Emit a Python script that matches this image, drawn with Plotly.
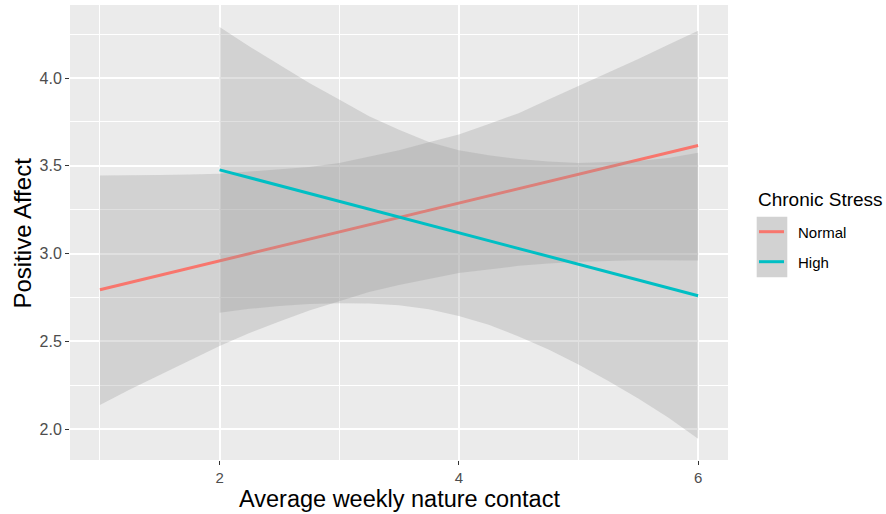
import plotly.graph_objects as go

# ---- data ----
groups = ["Normal", "High"]

normal_x = [1, 1.25, 1.5, 1.75, 2, 2.25, 2.5, 2.75, 3, 3.25, 3.5, 3.75,
            4, 4.25, 4.5, 4.75, 5, 5.25, 5.5, 5.75, 6]
normal_upper = [3.445, 3.445, 3.447, 3.450, 3.455, 3.467, 3.478, 3.493, 3.516, 3.550, 3.588,
                3.634, 3.678, 3.738, 3.800, 3.877, 3.953, 4.028, 4.108, 4.190, 4.269]
normal_lower = [2.138, 2.225, 2.309, 2.390, 2.473, 2.547, 2.613, 2.675, 2.730, 2.781, 2.821,
                2.855, 2.889, 2.909, 2.930, 2.943, 2.953, 2.958, 2.962, 2.962, 2.960]
normal_line_x = [1, 6]
normal_line_y = [2.794, 3.616]

high_x = [2, 2.25, 2.5, 2.75, 3, 3.25, 3.5, 3.75, 4, 4.25, 4.5, 4.75, 5, 5.25, 5.5, 5.75, 6]
high_upper = [4.290, 4.180, 4.076, 3.972, 3.877, 3.782, 3.706, 3.635, 3.588, 3.560, 3.539,
              3.524, 3.516, 3.520, 3.528, 3.545, 3.574]
high_lower = [2.663, 2.685, 2.702, 2.713, 2.717, 2.715, 2.706, 2.683, 2.645, 2.594, 2.528,
              2.453, 2.368, 2.274, 2.174, 2.066, 1.945]
high_line_x = [2, 6]
high_line_y = [3.477, 2.760]

x_ticks = [2, 4, 6]
x_minor = [1, 3, 5]
y_ticks = [2.0, 2.5, 3.0, 3.5, 4.0]
y_minor = [2.25, 2.75, 3.25, 3.75, 4.25]

colors = {"Normal": "#F8766D", "High": "#00BFC4"}
band_fill = "rgba(153,153,153,0.3)"
FONT = "Liberation Sans, Arial, Helvetica, sans-serif"

fig = go.Figure()

def add_group(x, up, lo, lx, ly, color):
    fig.add_trace(go.Scatter(
        x=x + x[::-1], y=up + lo[::-1], fill="toself", fillcolor=band_fill,
        line=dict(width=0), mode="lines", hoverinfo="skip", showlegend=False))
    fig.add_trace(go.Scatter(
        x=lx, y=ly, mode="lines", line=dict(color=color, width=3),
        showlegend=False))

add_group(normal_x, normal_upper, normal_lower, normal_line_x, normal_line_y, colors["Normal"])
add_group(high_x, high_upper, high_lower, high_line_x, high_line_y, colors["High"])

W, H = 886, 514
L, R, T, B = 70, 158, 5, 54
pw, ph = W - L - R, H - T - B

def px(xp):
    return (xp - L) / pw

def py(yp):
    return (H - B - yp) / ph

fig.update_layout(
    width=W, height=H,
    margin=dict(l=L, r=R, t=T, b=B),
    plot_bgcolor="#EBEBEB", paper_bgcolor="white",
    font=dict(family=FONT),
    showlegend=False,
    xaxis=dict(
        range=[0.75, 6.25], tickvals=x_ticks, ticktext=[str(v) for v in x_ticks],
        showgrid=True, gridcolor="white", gridwidth=2,
        minor=dict(tickvals=x_minor, showgrid=True, gridcolor="white", gridwidth=1, ticks=""),
        ticks="outside", ticklen=4, tickwidth=1, tickcolor="#333333",
        tickfont=dict(size=15, color="#4D4D4D", family=FONT),
        zeroline=False, showline=False),
    yaxis=dict(
        range=[1.824, 4.416], tickvals=y_ticks, ticktext=[f"{v:.1f}" for v in y_ticks],
        showgrid=True, gridcolor="white", gridwidth=2,
        minor=dict(tickvals=y_minor, showgrid=True, gridcolor="white", gridwidth=1, ticks=""),
        ticks="outside", ticklen=4, tickwidth=1, tickcolor="#333333",
        tickfont=dict(size=16, color="#4D4D4D", family=FONT),
        zeroline=False, showline=False),
)

ann = [
    dict(text="Average weekly nature contact", x=0.5, y=py(499), xref="paper", yref="paper",
         showarrow=False, xanchor="center", yanchor="middle", font=dict(size=23.5, color="black")),
    dict(text="Positive Affect", x=px(22), y=py(233.5), xref="paper", yref="paper",
         showarrow=False, xanchor="center", yanchor="middle", textangle=-90,
         font=dict(size=24, color="black")),
    dict(text="Chronic Stress", x=px(756), y=py(199), xref="paper", yref="paper",
         showarrow=False, xanchor="left", yanchor="middle", font=dict(size=19, color="black")),
    dict(text="Normal", x=px(796), y=py(232), xref="paper", yref="paper",
         showarrow=False, xanchor="left", yanchor="middle", font=dict(size=15, color="black")),
    dict(text="High", x=px(796), y=py(262), xref="paper", yref="paper",
         showarrow=False, xanchor="left", yanchor="middle", font=dict(size=15, color="black")),
]
shapes = [
    dict(type="rect", xref="paper", yref="paper", x0=px(756.7), x1=px(787.3),
         y0=py(277.3), y1=py(216.7), fillcolor="#D2D2D2", line=dict(width=0), layer="above"),
    dict(type="line", xref="paper", yref="paper", x0=px(759), x1=px(784),
         y0=py(231.7), y1=py(231.7), line=dict(color=colors["Normal"], width=3), layer="above"),
    dict(type="line", xref="paper", yref="paper", x0=px(759), x1=px(784),
         y0=py(261.7), y1=py(261.7), line=dict(color=colors["High"], width=3), layer="above"),
]
fig.update_layout(annotations=ann, shapes=shapes)

fig.write_html("out.html", config={"displayModeBar": False},
               post_script="document.body.style.margin='0';document.body.style.padding='0';")
